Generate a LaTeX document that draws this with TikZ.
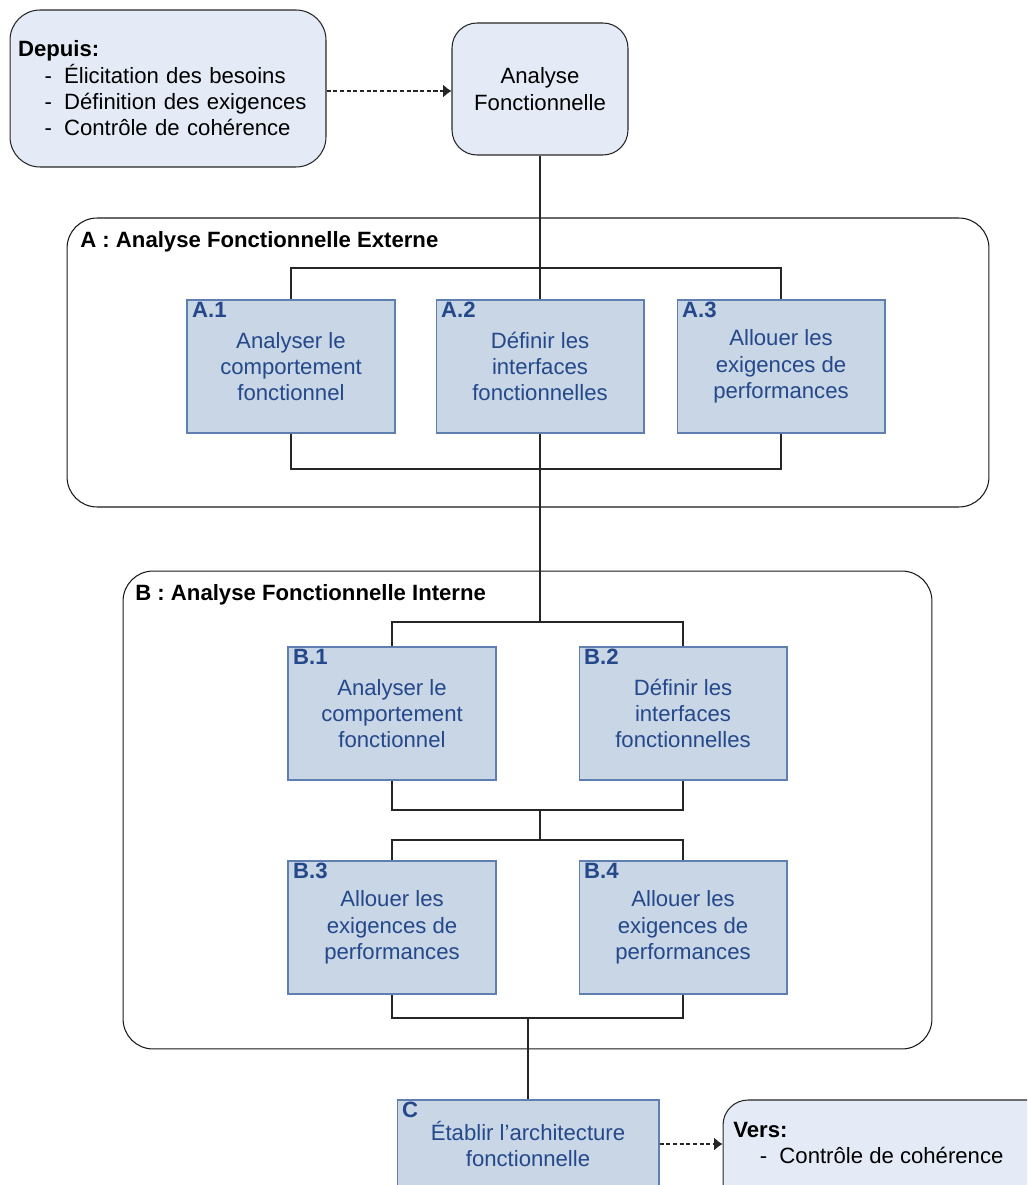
\documentclass[tikz,border=0pt]{standalone}
\usepackage{fontspec}
\setmainfont{Liberation Sans}
\usetikzlibrary{arrows.meta,positioning,calc}
\definecolor{taskfill}{HTML}{C8D6E6}
\definecolor{taskline}{HTML}{5E7FAF}
\definecolor{taskblue}{HTML}{24488A}
\definecolor{softfill}{HTML}{E4EBF6}
\newcommand{\listdash}{\hspace*{1.2em}-\hspace{0.55em}}

\begin{document}
\begin{tikzpicture}[x=0.02cm, y=-0.02cm,
    font=\fontsize{12.6}{15}\selectfont,
    task/.style={draw=taskline, fill=taskfill, text=taskblue, line width=0.6pt,
      minimum width=4.16cm, minimum height=2.66cm, align=center, inner sep=0pt},
    tag/.style={label={[anchor=north west, inner xsep=3pt, inner ysep=1.5pt,
      text=taskblue, font=\fontsize{12.6}{15}\selectfont\bfseries]north west:#1}},
    soft/.style={draw=black!85, fill=softfill, line width=0.6pt, rounded corners=0.5cm},
    group/.style={draw=black!90, fill=white, line width=0.6pt, rounded corners=0.6cm},
    grouptitle/.style={anchor=west, inner sep=0pt, font=\fontsize{12.6}{15}\selectfont\bfseries},
    link/.style={draw=black!85, line width=0.6pt},
    flow/.style={draw=black!85, line width=0.6pt, dash pattern=on 2.4pt off 1.4pt,
      -{Latex[length=1.7mm,width=2.6mm]}}]
  \path[use as bounding box, clip] (0,0) rectangle (1027,1185);

  %%%%% inputs / outputs %%%%%
  \node[soft, rounded corners=0.6cm, text width=6.0cm, inner xsep=0.16cm,
    minimum height=3.14cm, align=left] (depuis) at (168,88.5)
    {\textbf{Depuis:}\\ \listdash Élicitation des besoins\\
     \listdash Définition des exigences\\ \listdash Contrôle de cohérence};
  \node[soft, minimum width=3.52cm, minimum height=2.64cm, align=center] (af) at (540,89)
    {Analyse\\ Fonctionnelle};

  %%%%% groups %%%%%
  \node[group, minimum width=18.44cm, minimum height=5.78cm] (grpA) at (528,362.5) {};
  \node[grouptitle] (titleA) at (80,242) {A : Analyse Fonctionnelle Externe};
  \node[group, minimum width=16.18cm, minimum height=9.56cm] (grpB) at (527.5,810) {};
  \node[grouptitle] (titleB) at (135,595) {B : Analyse Fonctionnelle Interne};

  %%%%% tasks %%%%%
  \node[task, tag=A.1] (a1) at (291,366.5) {Analyser le\\ comportement\\ fonctionnel};
  \node[task, tag=A.2] (a2) at (540,366.5) {Définir les\\ interfaces\\ fonctionnelles};
  \node[task, tag=A.3] (a3) at (781,366.5) {Allouer les\\ exigences de\\ performances};

  \node[task, tag=B.1] (b1) at (392,713.5) {Analyser le\\ comportement\\ fonctionnel};
  \node[task, tag=B.2] (b2) at (683,713.5) {Définir les\\ interfaces\\ fonctionnelles};
  \node[task, tag=B.3] (b3) at (392,927.5) {Allouer les\\ exigences de\\ performances};
  \node[task, tag=B.4] (b4) at (683,927.5) {Allouer les\\ exigences de\\ performances};

  \node[task, tag=C, minimum width=5.24cm, minimum height=1.76cm] (c) at (528,1144)
    {Établir l’architecture\\ fonctionnelle};
  \node[soft, minimum width=6.6cm, minimum height=2.4cm] (vers) at (888,1160) {};
  \node[anchor=west, align=left, inner sep=0pt] (verstext) at (733,1143)
    {\textbf{Vers:}\\ \listdash Contrôle de cohérence};

  %%%%% connectors %%%%%
  \coordinate (topA) at (540,268);
  \coordinate (botA) at (540,469);
  \coordinate (topB) at (540,622);
  \coordinate (midB1) at (540,810);
  \coordinate (midB2) at (540,840);
  \coordinate (botB) at (528,1018);

  \draw[flow] (depuis.east |- 0,91) -- (af.west |- 0,91);
  \draw[link] (af.south) -- (a2.north);
  \draw[link] (a1.north) |- (topA) -| (a3.north);
  \draw[link] (a1.south) |- (botA) -| (a3.south);
  \draw[link] (a2.south) -- (topB);
  \draw[link] (b1.north) |- (topB) -| (b2.north);
  \draw[link] (b1.south) |- (midB1) -| (b2.south);
  \draw[link] (midB1) -- (midB2);
  \draw[link] (b3.north) |- (midB2) -| (b4.north);
  \draw[link] (b3.south) |- (botB) -| (b4.south);
  \draw[link] (botB) -- (c.north);
  \draw[flow] (c.east) -- (c.east -| vers.west);
\end{tikzpicture}
\end{document}
